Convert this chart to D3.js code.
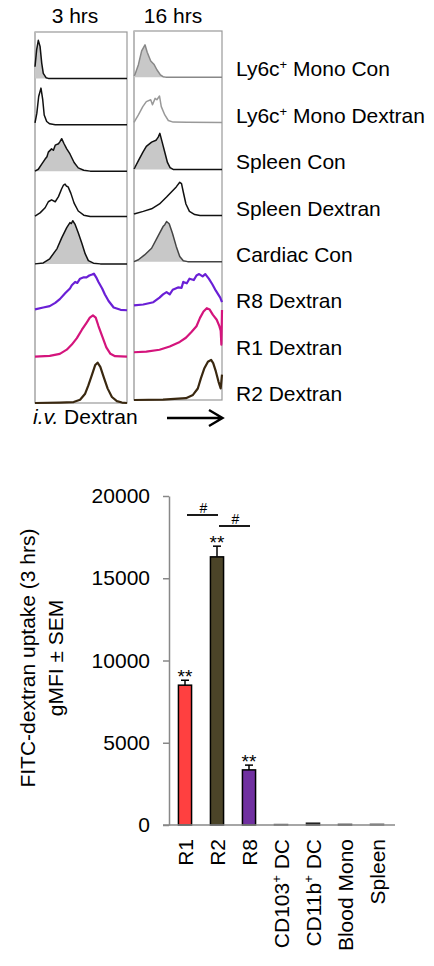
<!DOCTYPE html>
<meta charset="utf-8">
<html>

<head>
    <title>FITC-dextran uptake</title>
    <style>
        body { margin: 0; background: #fff; }
        svg { display: block; font-family: Arial, "Liberation Sans", sans-serif; }
    </style>
</head>

<body>
    <div id="container"></div>

    <script src="https://d3js.org/d3.v7.min.js"></script>

    <script>
        // ---------- histogram data ----------
        // each curve: [fluorescence (0-100 of axis), % of row height]
        const timepoints = ["3 hrs", "16 hrs"];
        const rowLabels = ["Ly6c+ Mono Con", "Ly6c+ Mono Dextran", "Spleen Con", "Spleen Dextran",
            "Cardiac Con", "R8 Dextran", "R1 Dextran", "R2 Dextran"];

        const hist3h = [
            [[0, 25], [1.8, 62], [3.6, 82], [5.5, 69], [7.3, 33], [9, 11], [12, 1.5], [14.5, 0], [100, 0]],
            [[0, 4], [2, 25], [4, 61], [6.5, 79], [8.4, 54], [10, 21], [12.7, 7], [16, 2], [22, 0], [100, 0]],
            [[0, 0], [3.6, 4], [7.3, 15], [11, 26], [13, 31], [14.5, 41], [18, 48], [20, 45], [22, 56], [25.5, 59],
                [27, 63], [29, 70], [31.6, 59], [34.5, 48], [38, 37], [42.5, 18.5], [47, 7], [53, 2], [60, 0], [100, 0]],
            [[0, 3], [5.5, 10], [11, 21], [14.5, 34], [18, 38], [22, 34], [25.5, 45], [29, 62], [31, 70], [32.7, 72],
                [34, 68], [36, 66], [39, 52], [42.5, 31], [47, 14], [53, 5], [60, 2], [100, 2]],
            [[0, 0], [9, 2], [16, 11], [24, 33], [29, 56], [34.5, 78], [38, 89], [39.5, 87], [41, 93], [43.6, 85],
                [47, 67], [51, 44], [54.5, 22], [58, 7], [63.6, 1.5], [71, 0], [100, 0]],
            [[0, 2], [9, 6], [16, 9], [22, 16], [27, 24], [33, 37], [38, 47], [40, 54], [43.6, 61], [46, 59], [49, 68],
                [53, 71], [56, 71], [59, 75], [62, 77], [64, 79], [66.5, 71], [69, 61], [73, 47], [76, 34], [80, 20],
                [85.5, 6], [93, 1], [100, 0]],
            [[0, 0], [16, 1.5], [27, 6], [34.5, 15], [40, 26], [45.5, 40], [51, 58], [56, 73], [59.6, 84], [63, 89],
                [66, 84], [69, 66], [73, 44], [77.5, 20], [82, 6], [87, 1], [100, 0]],
            [[0, 0], [27, 1], [42, 2], [49, 7], [54.5, 20], [58, 38], [61.8, 60], [65.5, 82], [68, 87], [71, 78],
                [74.5, 57], [79, 31], [83.6, 13], [89, 4], [94.5, 1], [100, 0]]
        ];

        const hist16h = [
            [[0, 3], [1, 5], [5, 27], [8.7, 57], [12.5, 70], [15, 54], [19, 35], [22.6, 28], [26, 16], [30, 5], [33, 1],
                [36, 0], [100, 0]],
            [[0, 2], [5, 18], [10, 36], [14, 47], [19, 51], [21, 40], [24, 54], [26, 51], [29, 59], [31, 36], [35, 18],
                [39, 6], [44.5, 2.5], [60, 2], [100, 1.5]],
            [[0, 1], [1, 4], [5, 19], [10, 37], [14, 50], [20, 59], [25, 63], [27.5, 70], [29.4, 78], [32, 59],
                [35, 37], [38, 15], [41, 4], [44.5, 0], [100, 0]],
            [[0, 3], [1, 4], [10.5, 9], [20, 14.5], [29, 25], [37, 40], [42.5, 51], [48, 62], [52, 72], [54, 69],
                [56, 51], [59, 25], [63, 9], [69, 2], [75, 0], [100, 0]],
            [[0, 0], [5, 4], [12, 14.5], [20, 29], [27, 54], [33, 76], [35, 80], [37, 87], [40, 82], [43.6, 62],
                [48, 33], [52, 11], [56, 2], [61, 0], [100, 0]],
            [[0, 5], [10.5, 7], [22, 12], [29, 22], [33, 29], [37, 34], [40.6, 29], [44, 39], [50, 44], [54, 43],
                [56, 56], [60, 53], [63, 63], [68, 60], [71, 70], [74, 73], [78, 68], [81, 73], [85, 63], [89, 51],
                [93, 37], [98, 22], [100, 12]],
            [[0, 3.5], [14, 5], [29, 9], [40.6, 16], [52, 26], [59, 35], [65, 47], [71, 60], [75, 78], [79, 92],
                [82.7, 99], [86, 96], [89.5, 85], [94, 74], [97, 60], [98.5, 50], [99.3, 20], [100, 95]],
            [[0, 0], [33, 1], [59, 4], [67, 11], [72.5, 25], [76, 47], [80, 69], [84, 83], [87.6, 87], [90, 80],
                [93, 62], [96, 40], [98.5, 25], [100, 55]]
        ];

        // ---------- bar chart data ----------
        const cellTypes = ["R1", "R2", "R8", "CD103+ DC", "CD11b+ DC", "Blood Mono", "Spleen"];
        const gmfi = [8500, 16300, 3350, 30, 110, 40, 50];
        const sem = [300, 650, 290, 10, 20, 10, 15];
        const stars = ["**", "**", "**", "", "", "", ""];
        const hashPairs = [["R1", "R2"], ["R2", "R8"]];
        const yTicks = [0, 5000, 10000, 15000, 20000];

        // ---------- styles ----------
        const lineColors = {
            0: ["#111", "#888"], 1: ["#111", "#999"], 2: ["#111", "#111"], 3: ["#111", "#111"],
            4: ["#111", "#444"], 5: ["#6a1fd6", "#6a1fd6"], 6: ["#d4147c", "#d4147c"], 7: ["#3a2810", "#3a2810"]
        };
        const filledRows = [0, 2, 4];
        const barColors = ["#ff4040", "#4b4428", "#7030a0", "#666", "#222", "#444", "#777"];

        const width = 434, height = 966;
        const font = 21;

        const svg = d3.select("#container").append("svg")
            .attr("width", width)
            .attr("height", height);

        // label with "+" drawn as superscript
        function supText(sel, str) {
            const parts = str.split("+");
            sel.append("tspan").text(parts[0]);
            if (parts.length > 1) {
                sel.append("tspan").attr("font-size", "62%").attr("dy", "-0.55em").text("+");
                sel.append("tspan").attr("dy", "0.34em").text(parts[1]);
            }
        }

        // ---------- histograms ----------
        const columns = [
            { data: hist3h, x0: 35, x1: 127, y0: 32, y1: 403, cx: 75 },
            { data: hist16h, x0: 134, x1: 222, y0: 31, y1: 400, cx: 173 }
        ];

        const rowIdx = d3.range(rowLabels.length);

        columns.forEach((col, c) => {
            const x = d3.scaleLinear().domain([0, 100]).range([col.x0, col.x1]);
            const rows = d3.scaleBand().domain(rowIdx).range([col.y0, col.y1]);

            const g = svg.append("g");

            // frame
            g.append("rect")
                .attr("x", col.x0).attr("y", col.y0)
                .attr("width", col.x1 - col.x0).attr("height", col.y1 - col.y0)
                .attr("fill", "none").attr("stroke", "#999").attr("stroke-width", 1.2);
            g.append("line")
                .attr("x1", col.x0).attr("x2", col.x0)
                .attr("y1", col.y0).attr("y2", col.y1)
                .attr("stroke", "#bbb").attr("stroke-width", 2);

            col.data.forEach((pts, r) => {
                const yr = d3.scaleLinear().domain([0, 100])
                    .range([rows(r) + rows.bandwidth(), rows(r)]);
                if (filledRows.includes(r)) {
                    g.append("path")
                        .datum(pts)
                        .attr("fill", "#c8c8c8")
                        .attr("d", d3.area().x(d => x(d[0])).y0(yr(0)).y1(d => yr(d[1])));
                }
                const colored = r >= 5;
                g.append("path")
                    .datum(pts)
                    .attr("fill", "none")
                    .attr("stroke", lineColors[r][c])
                    .attr("stroke-width", colored ? 2.2 : 1.5)
                    .attr("stroke-linejoin", "round")
                    .attr("d", d3.line().x(d => x(d[0])).y(d => yr(d[1])));
            });

            svg.append("text")
                .attr("x", col.cx).attr("y", 23)
                .attr("text-anchor", "middle")
                .attr("font-size", font)
                .text(timepoints[c]);
        });

        // row labels
        const rowsL = d3.scaleBand().domain(rowIdx).range([columns[0].y0, columns[0].y1]);
        rowLabels.forEach((lab, r) => {
            svg.append("text")
                .attr("x", 236)
                .attr("y", rowsL(r) + rowsL.bandwidth() - 2)
                .attr("font-size", font)
                .call(supText, lab);
        });

        // x caption + arrow
        const cap = svg.append("text").attr("x", 33).attr("y", 424).attr("font-size", font);
        cap.append("tspan").attr("font-style", "italic").text("i.v.");
        cap.append("tspan").text(" Dextran");

        svg.append("path")
            .attr("d", "M167,418H222M209,410L222.5,418L209,426")
            .attr("fill", "none").attr("stroke", "#000").attr("stroke-width", 2.4);

        // ---------- bar chart ----------
        const y = d3.scaleLinear().domain([0, 20000]).range([825, 496]);
        const xb = d3.scaleBand().domain(cellTypes).range([169, 393]).paddingInner(0.59).paddingOuter(0.295);

        const yAxis = svg.append("g")
            .attr("transform", "translate(169,0)")
            .call(d3.axisLeft(y).tickValues(yTicks).tickSize(6).tickSizeOuter(0).tickPadding(13)
                .tickFormat(d3.format("d")));
        yAxis.select(".domain").attr("stroke", "#888").attr("stroke-width", 1.5);
        yAxis.selectAll(".tick line").attr("stroke", "#888").attr("stroke-width", 1.5);
        yAxis.selectAll(".tick text").attr("font-size", font).attr("fill", "#000")
            .attr("font-family", "Arial, 'Liberation Sans', sans-serif");

        // bars
        svg.append("g")
            .selectAll("rect")
            .data(cellTypes)
            .join("rect")
            .attr("x", d => xb(d))
            .attr("width", xb.bandwidth())
            .attr("y", (d, i) => y(gmfi[i]))
            .attr("height", (d, i) => y(0) - y(gmfi[i]))
            .attr("fill", (d, i) => barColors[i])
            .attr("stroke", (d, i) => i < 3 ? "#000" : barColors[i])
            .attr("stroke-width", 1.5);

        // x axis line
        svg.append("line")
            .attr("x1", 163).attr("x2", 395)
            .attr("y1", y(0)).attr("y2", y(0))
            .attr("stroke", "#888").attr("stroke-width", 1.5);

        // error bars (upper)
        const eb = svg.append("g").attr("stroke", "#000").attr("stroke-width", 1.5);
        cellTypes.forEach((d, i) => {
            if (i > 2) return;
            const cx = xb(d) + xb.bandwidth() / 2;
            eb.append("line").attr("x1", cx).attr("x2", cx)
                .attr("y1", y(gmfi[i])).attr("y2", y(gmfi[i] + sem[i]));
            eb.append("line").attr("x1", cx - 4).attr("x2", cx + 4)
                .attr("y1", y(gmfi[i] + sem[i])).attr("y2", y(gmfi[i] + sem[i]));
        });

        // significance stars
        svg.append("g")
            .selectAll("text")
            .data(cellTypes)
            .join("text")
            .attr("x", d => xb(d) + xb.bandwidth() / 2)
            .attr("y", (d, i) => y(gmfi[i] + sem[i]) + 3)
            .attr("text-anchor", "middle")
            .attr("font-size", 19)
            .text((d, i) => stars[i]);

        // # comparisons
        const hashLevels = [515, 526];
        hashPairs.forEach((p, k) => {
            const a = xb(p[0]) + xb.bandwidth() / 2 + 2, b = xb(p[1]) + xb.bandwidth() / 2 + 1;
            svg.append("line")
                .attr("x1", a).attr("x2", b)
                .attr("y1", hashLevels[k]).attr("y2", hashLevels[k])
                .attr("stroke", "#000").attr("stroke-width", 1.8);
            svg.append("text")
                .attr("x", (a + b) / 2 + 1).attr("y", hashLevels[k] - 2)
                .attr("text-anchor", "middle")
                .attr("font-size", 14)
                .text("#");
        });

        // category labels
        svg.append("g")
            .selectAll("text")
            .data(cellTypes)
            .join("text")
            .attr("transform", d => `translate(${xb(d) + xb.bandwidth() / 2},839) rotate(-90)`)
            .attr("text-anchor", "end")
            .attr("dy", "0.36em")
            .attr("font-size", font)
            .each(function (d) { d3.select(this).call(supText, d); });

        // y axis title
        const yTitle = ["FITC-dextran uptake (3 hrs)", "gMFI \u00b1 SEM"];
        yTitle.forEach((t, k) => {
            svg.append("text")
                .attr("transform", `translate(${27 + k * 28},658) rotate(-90)`)
                .attr("text-anchor", "middle")
                .attr("dy", "0.36em")
                .attr("font-size", font)
                .text(t);
        });
    </script>
</body>

</html>
